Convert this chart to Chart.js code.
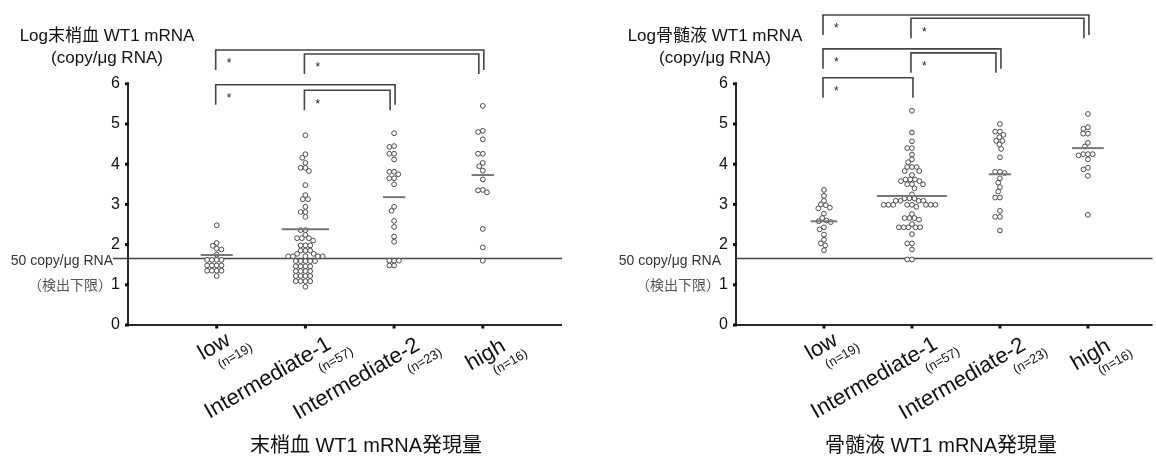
<!DOCTYPE html>
<html><head><meta charset="utf-8">
<script src="https://cdn.jsdelivr.net/npm/chart.js@4/dist/chart.umd.min.js"></script>
<style>
html,body{margin:0;padding:0;background:#fff;}
#wrap{position:relative;width:1156px;height:458px;overflow:hidden;}
.pane{position:absolute;top:0;width:578px;height:458px;}
</style></head><body>
<div id="wrap">
<div class="pane" style="left:0"><canvas id="c1"></canvas></div>
<div class="pane" style="left:578px"><canvas id="c2"></canvas></div>
</div>
<script>
// ---------------- DATA ----------------
const categories = ['low', 'Intermediate-1', 'Intermediate-2', 'high'];
const counts = [19, 57, 23, 16];
const yTicks = [0, 1, 2, 3, 4, 5, 6];
const detectionLimit = 1.67;            // log(50 copy/µg RNA)
const limitLabel = '50 copy/μg RNA';
const limitNote = '（検出下限）';
const yTitleLines = ['(copy/μg RNA)'];

// 末梢血 (peripheral blood)
const pbLow  = [2.48, 2.04, 1.97, 1.90, 1.88, 1.75, 1.62, 1.62, 1.62, 1.62, 1.48, 1.48, 1.48, 1.48, 1.35, 1.35, 1.35, 1.35, 1.22];
const pbInt1 = [4.72, 4.25, 4.16, 4.03, 3.91, 3.91, 3.83, 3.48, 3.23, 3.13, 3.13, 2.94, 2.81, 2.81, 2.69,
                2.36, 2.36, 2.24, 2.16, 2.16, 2.16, 2.10, 1.98, 1.98, 1.98, 1.85, 1.85, 1.85, 1.77, 1.77,
                1.71, 1.71, 1.71, 1.71, 1.71, 1.59, 1.59, 1.59, 1.59, 1.59, 1.46, 1.46, 1.46, 1.46,
                1.34, 1.34, 1.34, 1.34, 1.22, 1.22, 1.22, 1.22, 1.09, 1.09, 1.09, 1.09, 0.95];
const pbInt2 = [4.77, 4.45, 4.43, 4.26, 4.26, 4.12, 3.81, 3.81, 3.75, 3.65, 3.65, 3.50, 2.94, 2.84, 2.59, 2.44, 2.20, 2.07, 1.60, 1.60, 1.60, 1.48, 1.48];
const pbHigh = [5.45, 4.83, 4.80, 4.62, 4.26, 4.26, 4.03, 3.95, 3.84, 3.62, 3.36, 3.35, 3.30, 2.39, 1.93, 1.60];
const pbCenter = [1.74, 2.38, 3.18, 3.73];
const pbPairs = [[1, 4], [2, 4], [1, 3], [2, 3]];

// 骨髄液 (bone marrow)
const bmLow  = [3.36, 3.21, 3.09, 3.00, 2.98, 2.92, 2.90, 2.77, 2.66, 2.60, 2.58, 2.56, 2.43, 2.38, 2.25, 2.12, 2.03, 1.98, 1.86];
const bmInt1 = [5.33, 4.79, 4.57, 4.40, 4.40, 4.24, 4.12, 4.05, 3.93, 3.93, 3.93, 3.83, 3.83, 3.73, 3.62, 3.62, 3.62, 3.58, 3.58, 3.50, 3.50, 3.50, 3.40, 3.25,
                3.15, 3.15, 3.15, 3.09, 3.09, 3.09, 3.09, 2.99, 2.99, 2.99, 2.99, 2.99, 2.99, 2.99, 2.99, 2.94, 2.76,
                2.66, 2.66, 2.66, 2.62, 2.51, 2.43, 2.43, 2.43, 2.43, 2.43, 2.26, 2.03, 2.03, 1.88, 1.63, 1.63];
const bmInt2 = [5.00, 4.81, 4.81, 4.73, 4.67, 4.58, 4.58, 4.49, 4.38, 4.17, 3.81, 3.81, 3.78, 3.65, 3.54, 3.43, 3.32, 3.17, 3.17, 2.84, 2.69, 2.69, 2.35];
const bmHigh = [5.25, 4.92, 4.88, 4.76, 4.76, 4.53, 4.44, 4.25, 4.25, 4.25, 4.22, 4.12, 3.91, 3.87, 3.71, 2.74];
const bmCenter = [2.58, 3.21, 3.75, 4.40];
const bmPairs = [[1, 4], [2, 4], [1, 3], [2, 3], [1, 2]];

// ---------------- LAYOUT / STYLE ----------------
const FONT = '"Liberation Sans", Arial, "Noto Sans CJK JP", sans-serif';
const CAT_PX = 88.7;          // px between categories
const Y_MAX = 8;
const X_AXIS_H = 133;
const DOT_D = 4.8;            // swarm spacing (px)
const labelShift = [[15, 19], [27, 23], [27, 24], [24, 25]];

function swarm(values, pxX, pxY, D) {
  const pts = values.map((v, i) => ({ v, y: v * pxY, x: 0, i }));
  const order = pts.slice().sort((a, b) => b.v - a.v);
  const placed = [];
  for (const p of order) {
    const cands = [0];
    for (const q of placed) {
      const dy = Math.abs(q.y - p.y);
      if (dy < D) { const dx = Math.sqrt(D * D - dy * dy); cands.push(q.x + dx, q.x - dx); }
    }
    cands.sort((a, b) => (Math.abs(a) - Math.abs(b)) || (a - b));
    for (const c of cands) {
      if (placed.every(q => (q.x - c) ** 2 + (q.y - p.y) ** 2 >= D * D - 0.01)) { p.x = c; break; }
    }
    placed.push(p);
  }
  return pts.map(p => ({ dxPx: p.x, v: p.v }));
}

const decor = {
  id: 'decor',
  beforeDatasetsDraw(chart, args, o) {
    const { ctx, chartArea: a, scales: { x, y } } = chart;
    ctx.save();
    ctx.strokeStyle = '#444'; ctx.lineWidth = 1.3;
    const ty = Math.round(y.getPixelForValue(detectionLimit)) + 0.5;
    ctx.beginPath(); ctx.moveTo(a.left - o.limitExtend, ty); ctx.lineTo(a.right, ty); ctx.stroke();
    ctx.restore();
  },
  afterDatasetsDraw(chart, args, o) {
    const { ctx, chartArea: a, scales: { x, y } } = chart;
    ctx.save();
    // centre lines
    ctx.strokeStyle = '#777'; ctx.lineWidth = 2;
    o.center.forEach((m, i) => {
      const cx = x.getPixelForValue(i + 1);
      const hw = o.spread[i] + 4;
      const my = y.getPixelForValue(m);
      ctx.beginPath(); ctx.moveTo(cx - hw, my); ctx.lineTo(cx + hw, my); ctx.stroke();
    });
    // axes
    const y0 = y.getPixelForValue(0);
    ctx.strokeStyle = '#2a2a2a'; ctx.lineWidth = 2;
    ctx.beginPath(); ctx.moveTo(a.left, y0); ctx.lineTo(a.left, y.getPixelForValue(yTicks[yTicks.length - 1])); ctx.stroke();
    ctx.beginPath(); ctx.moveTo(a.left, y0); ctx.lineTo(a.right, y0); ctx.stroke();
    ctx.fillStyle = '#111';
    yTicks.forEach(t => { const ty = y.getPixelForValue(t); ctx.fillRect(a.left - 3, ty - 1.5, 4, 3); });
    categories.forEach((c, i) => { const tx = x.getPixelForValue(i + 1); ctx.fillRect(tx - 1.5, y0, 3, 3.5); });
    ctx.restore();
  },
  afterDraw(chart, args, o) {
    const { ctx, chartArea: a, scales: { x, y } } = chart;
    const y0 = y.getPixelForValue(0);
    ctx.save();
    // brackets
    ctx.strokeStyle = '#444'; ctx.lineWidth = 1.6;
    o.pairs.forEach((p, k) => {
      const top = y.getPixelForValue(o.bracketTop[k]);
      const inner = o.pairs.some((q, j) => j !== k && q[1] === p[1] && o.bracketTop[j] > o.bracketTop[k]);
      const xl = x.getPixelForValue(p[0]) - 1;
      const xr = x.getPixelForValue(p[1]) + (inner ? -4 : 1);
      ctx.beginPath();
      ctx.moveTo(xl, top + 20); ctx.lineTo(xl, top); ctx.lineTo(xr, top); ctx.lineTo(xr, top + 20);
      ctx.stroke();
      ctx.fillStyle = '#222'; ctx.font = '12px ' + FONT; ctx.textAlign = 'left'; ctx.textBaseline = 'middle';
      ctx.fillText('*', xl + 11, top + 14);
    });
    // y title
    ctx.fillStyle = '#111'; ctx.textAlign = 'center'; ctx.textBaseline = 'alphabetic';
    ctx.font = '17px ' + FONT;
    ctx.fillText(o.yTitle, a.left - 21, 41);
    ctx.fillText(yTitleLines[0], a.left - 21, 63);
    // detection limit text
    ctx.textAlign = 'right';
    ctx.fillStyle = '#333'; ctx.font = '14px ' + FONT;
    ctx.fillText(limitLabel, a.left - 15, 265);
    ctx.fillStyle = '#555'; ctx.font = '14px "Noto Sans CJK JP", sans-serif'; ctx.textBaseline = 'middle';
    ctx.fillText(limitNote, a.left - 16, y.getPixelForValue(1));
    // category labels
    ctx.fillStyle = '#111';
    categories.forEach((c, i) => {
      const tx = x.getPixelForValue(i + 1);
      ctx.save();
      ctx.translate(tx + labelShift[i][0], y0 + labelShift[i][1]);
      ctx.rotate(-Math.PI / 6);
      ctx.textBaseline = 'alphabetic';
      ctx.font = '22px ' + FONT; ctx.textAlign = 'right';
      ctx.fillText(c, 0, 0);
      ctx.font = '13px ' + FONT; ctx.textAlign = 'left';
      ctx.fillText('(n=' + counts[i] + ')', -22, 16);
      ctx.restore();
    });
    // x title
    ctx.font = '20px ' + FONT; ctx.textAlign = 'center'; ctx.textBaseline = 'middle';
    ctx.fillText(o.xTitle, a.left + o.xTitleAt, 446);
    ctx.restore();
  }
};

function makeChart(id, groups, center, pairs, opts) {
  const plotW = 578 - opts.axisW - opts.padR;
  const xMax = plotW / CAT_PX;
  const pxY = (458 - X_AXIS_H - 1) / Y_MAX;
  const spread = [];
  const datasets = groups.map((vals, i) => {
    const s = swarm(vals, CAT_PX, pxY, DOT_D);
    spread.push(Math.max(...s.map(p => Math.abs(p.dxPx))) + 2.4);
    return {
      data: s.map(p => ({ x: i + 1 + p.dxPx / CAT_PX, y: p.v })),
      pointRadius: 2.4, pointBorderWidth: 1, pointBorderColor: '#4a4a4a', pointBackgroundColor: '#fff',
      pointHoverRadius: 2.4, showLine: false
    };
  });
  const noPad = s => { s.paddingTop = 0; s.paddingBottom = 0; s.paddingLeft = 0; s.paddingRight = 0; };
  return new Chart(document.getElementById(id), {
    type: 'scatter',
    data: { datasets },
    plugins: [decor],
    options: {
      animation: false, responsive: true, maintainAspectRatio: false, devicePixelRatio: 1,
      layout: { padding: { top: 1, right: opts.padR, left: 0, bottom: 0 } },
      plugins: {
        legend: { display: false }, tooltip: { enabled: false },
        decor: { center, pairs, spread, bracketTop: opts.bracketTop, yTitle: opts.yTitle, xTitle: opts.xTitle,
                 xTitleAt: opts.xTitleAt, limitExtend: opts.limitExtend }
      },
      scales: {
        x: { type: 'linear', min: 0, max: xMax, grid: { display: false, drawTicks: false }, border: { display: false },
             ticks: { display: false }, afterFit: s => { s.height = X_AXIS_H; noPad(s); } },
        y: { type: 'linear', min: 0, max: Y_MAX, grid: { display: false, drawTicks: false }, border: { display: false },
             afterBuildTicks: s => { s.ticks = yTicks.map(v => ({ value: v })); },
             ticks: { padding: 8, color: '#111', font: { family: FONT, size: 16 } },
             afterFit: s => { s.width = opts.axisW; noPad(s); } }
      }
    }
  });
}

makeChart('c1', [pbLow, pbInt1, pbInt2, pbHigh], pbCenter, pbPairs,
  { axisW: 128, padR: 16, bracketTop: [6.84, 6.74, 5.975, 5.84], yTitle: 'Log末梢血 WT1 mRNA',
    xTitle: '末梢血 WT1 mRNA発現量', xTitleAt: 238, limitExtend: 15 });
makeChart('c2', [bmLow, bmInt1, bmInt2, bmHigh], bmCenter, bmPairs,
  { axisW: 158, padR: 0, bracketTop: [7.71, 7.63, 6.87, 6.77, 6.15], yTitle: 'Log骨髄液 WT1 mRNA',
    xTitle: '骨髄液 WT1 mRNA発現量', xTitleAt: 205, limitExtend: 0 });
</script>
</body></html>
